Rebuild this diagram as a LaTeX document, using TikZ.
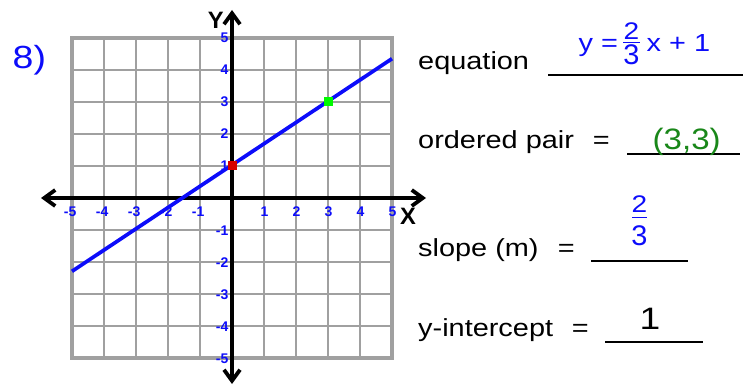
\documentclass[tikz,border=0pt]{standalone}
\usepackage{fontspec}
\setmainfont{Liberation Sans}
\newfontfamily\widefont[FakeStretch=1.17]{Liberation Sans}
\newfontfamily\widerfont[FakeStretch=1.12]{Liberation Sans}
\newfontfamily\onefont[FakeStretch=1.2]{Liberation Sans}
\newfontfamily\tickfont{Liberation Sans Bold}
\usetikzlibrary{arrows.meta}
\definecolor{blueT}{RGB}{12,12,250}
\definecolor{greenT}{RGB}{25,135,25}
\definecolor{limeSq}{RGB}{0,250,0}
\definecolor{redSq}{RGB}{215,0,0}
\definecolor{gridgray}{RGB}{160,160,160}
\newcommand\mainTxt{\widefont\fontsize{24.7}{29}\selectfont}
\newcommand\bigTxt{\widefont\fontsize{32}{36}\selectfont}
\newcommand\tickTxt{\tickfont\fontsize{14}{14}\selectfont}
\newcommand\axTxt{\tickfont\fontsize{23.7}{24}\selectfont}
\tikzset{
  gridline/.style={draw=gridgray, line width=2.7pt},
  gridframe/.style={draw=gridgray, line width=3.6pt},
  axisline/.style={line width=3.8pt, black, {Straight Barb[length=11pt,width=16pt]}-{Straight Barb[length=11pt,width=16pt]}},
  ticklab/.style={font=\tickTxt, text=blueT, inner sep=0pt},
  axlab/.style={font=\axTxt, text=black, inner sep=0pt},
  plainTxt/.style={font=\mainTxt, text=black, inner sep=0pt, anchor=base west},
  ansTxt/.style={font=\mainTxt, text=blueT, inner sep=0pt},
  blank/.style={line width=2pt, black},
  fracbar/.style={line width=1.6pt, blueT},
  pointsq/.style={minimum size=9pt, inner sep=0pt, draw=none},
}
\begin{document}
\begin{tikzpicture}[x=1pt, y=-1pt]
\useasboundingbox (0,0) rectangle (749,385);
% grid
\foreach \k in {1,...,9}{
  \draw[gridline] ({72+32*\k},38) -- ({72+32*\k},358);
  \draw[gridline] (72,{38+32*\k}) -- (392,{38+32*\k});
}
\draw[gridframe] (72,38) rectangle (392,358);
% axes
\coordinate (xl) at (41,198);
\coordinate (xr) at (426,198);
\coordinate (yt) at (232,10);
\coordinate (yb) at (232,384);
\draw[axisline] (xl) -- (xr);
\draw[axisline] (yb) -- (yt);
\node[axlab] (ylab) at (215.8,20) {Y};
\node[axlab] (xlab) at (408,216.5) {X};
% tick labels
\foreach \k in {1,...,5}{
  \node[ticklab, anchor=east] (yp\k) at (228.5,{198-32*\k}) {\k};
  \node[ticklab, anchor=east] (yn\k) at (228.5,{198+32*\k+1}) {-\k};
  \node[ticklab, anchor=base east] (xp\k) at ({232+32*\k+4.5},216.5) {\k};
  \node[ticklab, anchor=base east] (xn\k) at ({232-32*\k+4.5},216.5) {-\k};
}
% line
\coordinate (la) at (72,271.3);
\coordinate (lb) at (392,58.7);
\draw[blueT, line width=3.7pt] (la) -- (lb);
\node[pointsq, fill=redSq] (p1) at (232.7,165.3) {};
\node[pointsq, fill=limeSq] (p2) at (328,101.2) {};
% problem number
\node[font=\bigTxt, text=blueT, inner sep=0pt, anchor=base west] (num) at (12.5,68.5) {8)};
% right side
\node[plainTxt] (eqlab) at (418,70) {equation};
\draw[blank] (548,75) coordinate (e1) -- (743,75) coordinate (e2);
\node[ansTxt, anchor=base west] (eqy) at (578.5,51.7) {y =};
\node[ansTxt, anchor=base, font=\widefont\fontsize{24}{28}\selectfont] (eqn) at (631.5,39.5) {2};
\draw[fracbar] (623,42.6) coordinate (f1) -- (640,42.6) coordinate (f2);
\node[ansTxt, anchor=base] (eqd) at (631.5,64.8) {\scalebox{1}[1.15]{3}};
\node[ansTxt, anchor=base west] (eqx) at (646.5,51.7) {x + 1};

\node[plainTxt] (oplab) at (418,148) {ordered pair\hspace{18.8pt}=};
\draw[blank] (627,154) coordinate (o1) -- (740,154) coordinate (o2);
\node[font=\widerfont\fontsize{29.5}{33}\selectfont, text=greenT, inner sep=0pt, anchor=base west] (opans) at (652.5,149.3) {(3,3)};

\node[plainTxt] (sllab) at (418,256) {slope (m)\hspace{19.2pt}=};
\draw[blank] (591,261) coordinate (s1) -- (688,261) coordinate (s2);
\node[ansTxt, anchor=base, font=\widefont\fontsize{24}{28}\selectfont] (sln) at (639.5,212.3) {2};
\draw[fracbar] (632,217.6) coordinate (g1) -- (647,217.6) coordinate (g2);
\node[ansTxt, anchor=base] (sld) at (639.5,245.3) {\scalebox{1}[1.15]{3}};

\node[plainTxt] (yilab) at (418,336.7) {y-intercept\hspace{18.7pt}=};
\draw[blank] (605,341.7) coordinate (i1) -- (703,341.7) coordinate (i2);
\node[font=\onefont\fontsize{31}{34}\selectfont, text=black, inner sep=0pt, anchor=base] (yians) at (650,329.4) {1};
\end{tikzpicture}
\end{document}
